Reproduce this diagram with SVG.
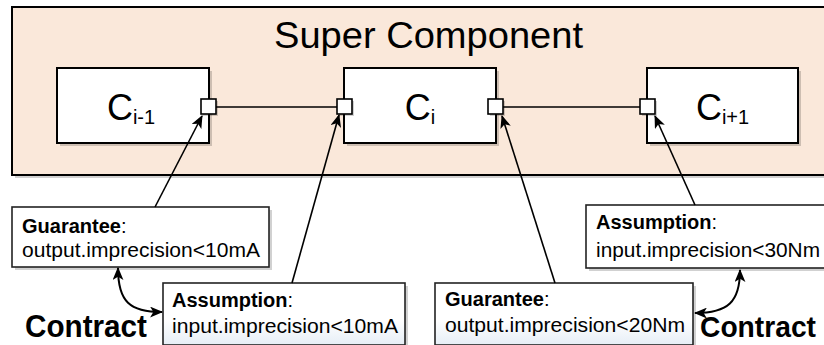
<svg xmlns="http://www.w3.org/2000/svg" width="824" height="345" viewBox="0 0 824 345">
  <style>
    .txt { font-family: "Liberation Sans", Arial, Helvetica, sans-serif; fill: #000; }
    .comp { fill: #fff; stroke: #000; stroke-width: 2; }
    .port { fill: #fff; stroke: #000; stroke-width: 1.6; }
    .note { stroke: #222; stroke-width: 1.6; }
    .shadow { fill: #000; opacity: 0.18; }
    .wire { fill: none; stroke: #000; stroke-width: 1.6; }
    .ref { fill: none; stroke: #000; stroke-width: 1.6; marker-end: url(#head); }
    .contract { fill: none; stroke: #000; stroke-width: 2; marker-start: url(#head); marker-end: url(#head); }
    .lbl { font-size: 20px; }
  </style>
  <defs>
    <marker id="head" viewBox="0 0 12 10" refX="11" refY="5" markerWidth="13" markerHeight="11" markerUnits="userSpaceOnUse" orient="auto-start-reverse">
      <path d="M0,0 L12,5 L0,10 L3,5 z" fill="#000"/>
    </marker>
    <linearGradient id="noteFill" x1="0" y1="0" x2="0" y2="1">
      <stop offset="0" stop-color="#ffffff"/>
      <stop offset="0.6" stop-color="#ffffff"/>
      <stop offset="1" stop-color="#e6eef6"/>
    </linearGradient>
  </defs>

  <!-- enclosing super component -->
  <g id="super-component">
    <rect class="shadow" x="15" y="10" width="820" height="168"/>
    <rect x="12" y="7" width="820" height="168" fill="#FAE8DA" stroke="#000" stroke-width="2"/>
    <text class="txt" x="428.5" y="48" font-size="36" text-anchor="middle" textLength="309" lengthAdjust="spacingAndGlyphs">Super Component</text>
  </g>

  <!-- sub-components -->
  <g id="c-prev">
    <rect class="shadow" x="60" y="71" width="152" height="75"/>
    <rect class="comp" x="57" y="68" width="152" height="75"/>
    <text class="txt" x="131" y="120" font-size="36" text-anchor="middle">C<tspan font-size="20" dy="4">i-1</tspan></text>
  </g>
  <g id="c-cur">
    <rect class="shadow" x="347" y="71" width="152" height="75"/>
    <rect class="comp" x="344" y="68" width="152" height="75"/>
    <text class="txt" x="420" y="120" font-size="36" text-anchor="middle">C<tspan font-size="20" dy="4">i</tspan></text>
  </g>
  <g id="c-next">
    <rect class="shadow" x="650" y="71" width="151" height="75"/>
    <rect class="comp" x="647" y="68" width="151" height="75"/>
    <text class="txt" x="722.5" y="120" font-size="36" text-anchor="middle">C<tspan font-size="20" dy="4">i+1</tspan></text>
  </g>

  <!-- ports -->
  <g id="ports">
    <rect class="shadow" x="203" y="101" width="15" height="15"/>
    <rect class="port" x="201" y="99" width="15" height="15"/>
    <rect class="shadow" x="339" y="101" width="15" height="15"/>
    <rect class="port" x="337" y="99" width="15" height="15"/>
    <rect class="shadow" x="490" y="101" width="15" height="15"/>
    <rect class="port" x="488" y="99" width="15" height="15"/>
    <rect class="shadow" x="642" y="101" width="15" height="15"/>
    <rect class="port" x="640" y="99" width="15" height="15"/>
  </g>

  <!-- annotation boxes -->
  <g id="guarantee-prev">
    <rect class="shadow" x="15" y="210" width="257" height="60"/>
    <rect class="note" x="12" y="207" width="257" height="60" fill="#fff"/>
    <text class="txt lbl" x="22" y="233"><tspan font-weight="bold">Guarantee</tspan>:</text>
    <text class="txt lbl" x="22" y="257" textLength="238" lengthAdjust="spacingAndGlyphs">output.imprecision&lt;10mA</text>
  </g>
  <g id="assumption-cur">
    <rect class="shadow" x="166" y="286" width="242" height="62"/>
    <rect class="note" x="163" y="283" width="242" height="62" fill="url(#noteFill)"/>
    <text class="txt lbl" x="172" y="307"><tspan font-weight="bold">Assumption</tspan>:</text>
    <text class="txt lbl" x="172" y="333" textLength="226" lengthAdjust="spacingAndGlyphs">input.imprecision&lt;10mA</text>
  </g>
  <g id="guarantee-cur">
    <rect class="shadow" x="438" y="286" width="258" height="62"/>
    <rect class="note" x="435" y="283" width="258" height="62" fill="url(#noteFill)"/>
    <text class="txt lbl" x="445" y="306"><tspan font-weight="bold">Guarantee</tspan>:</text>
    <text class="txt lbl" x="445" y="332" textLength="240" lengthAdjust="spacingAndGlyphs">output.imprecision&lt;20Nm</text>
  </g>
  <g id="assumption-next">
    <rect class="shadow" x="589" y="208" width="260" height="63"/>
    <rect class="note" x="586" y="205" width="260" height="63" fill="#fff"/>
    <text class="txt lbl" x="596" y="229"><tspan font-weight="bold">Assumption</tspan>:</text>
    <text class="txt lbl" x="596" y="257" textLength="224" lengthAdjust="spacingAndGlyphs">input.imprecision&lt;30Nm</text>
  </g>

  <!-- contract labels -->
  <g id="contract-left">
    <text class="txt" x="25" y="337" font-size="31" font-weight="bold" textLength="122" lengthAdjust="spacingAndGlyphs">Contract</text>
  </g>
  <g id="contract-right">
    <text class="txt" x="700" y="337" font-size="30" font-weight="bold" textLength="116" lengthAdjust="spacingAndGlyphs">Contract</text>
  </g>

  <!-- connectors -->
  <g id="connectors">
    <line class="wire" x1="216" y1="107" x2="337" y2="107"/>
    <line class="wire" x1="503" y1="107" x2="640" y2="107"/>
    <line class="ref" x1="155" y1="207" x2="202" y2="116"/>
    <line class="ref" x1="292" y1="283" x2="339" y2="115"/>
    <line class="ref" x1="555" y1="283" x2="502" y2="116"/>
    <line class="ref" x1="695" y1="205" x2="655" y2="116"/>
    <path class="contract" d="M118,268 C118,302 130,312 162,312"/>
    <path class="contract" d="M740,270 C740,302 728,313 695,313"/>
  </g>
</svg>
